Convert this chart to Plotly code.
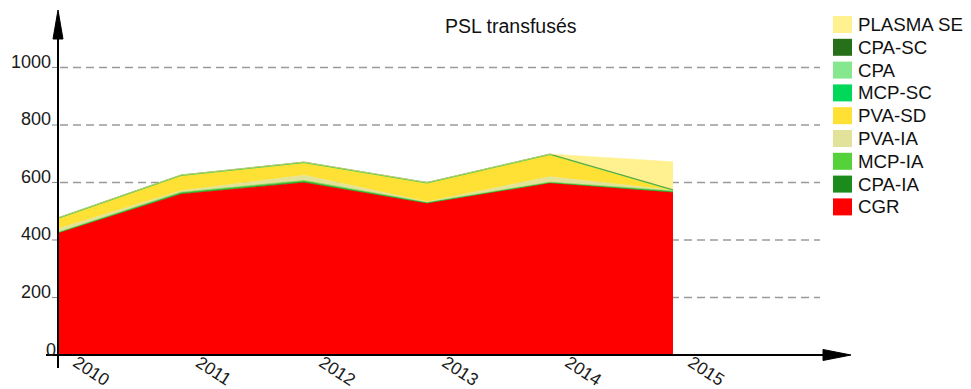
import plotly.graph_objects as go

# Yearly transfused blood products (stacked)
years = [2010, 2011, 2012, 2013, 2014, 2015]
cgr = [424, 560, 600, 528, 598, 566]
cpa_ia = [1, 2, 2, 1, 1, 1]
mcp_ia = [2, 4, 5, 2, 2, 4]
pva_ia = [12, 5, 18, 2, 19, 2]
pva_sd = [36, 53, 44, 65, 77, 0]
mcp_sc = [0, 0, 0, 0, 0, 0]
cpa = [2, 2, 2, 2, 2, 2]
cpa_sc = [0, 0, 0, 0, 0, 0]
plasma_se = [0, 0, 0, 0, 0, 97]

y_ticks = [0, 200, 400, 600, 800, 1000]
grid_values = [200, 400, 600, 800, 1000]
title_text = "PSL transfusés"

# stacking order, bottom to top
series = [
    ("CGR", cgr, "#ff0000"),
    ("CPA-IA", cpa_ia, "#1b8c1b"),
    ("MCP-IA", mcp_ia, "#55d23a"),
    ("PVA-IA", pva_ia, "#e3e29a"),
    ("PVA-SD", pva_sd, "#ffe135"),
    ("MCP-SC", mcp_sc, "#00d85a"),
    ("CPA", cpa, "#86d86a"),
    ("CPA-SC", cpa_sc, "#27701a"),
    ("PLASMA SE", plasma_se, "#fff18f"),
]
legend_colors = {
    "PLASMA SE": "#fff18f", "CPA-SC": "#27701a", "CPA": "#86e88e",
    "MCP-SC": "#00d85a", "PVA-SD": "#ffe135", "PVA-IA": "#e3e29a",
    "MCP-IA": "#55d23a", "CPA-IA": "#1b8c1b", "CGR": "#ff0000",
}

W, H = 971, 389
L, R, T, B = 58, 850, 10, 355  # plot area in pixels
FONT = "Liberation Sans, Arial"


def px_x(p):
    return (p - L) / (R - L)


def px_y(p):
    return (B - p) / (B - T)


fig = go.Figure()
for name, vals, color in series:
    fig.add_trace(go.Scatter(
        x=years, y=vals, name=name, stackgroup="one", mode="lines",
        line=dict(width=0.6, color=color), fillcolor=color,
        showlegend=False, hoverinfo="x+y+name",
    ))

shapes = []
# dashed grid
for v in grid_values:
    shapes.append(dict(type="line", xref="paper", yref="y",
                       x0=px_x(60), x1=px_x(820), y0=v, y1=v,
                       line=dict(color="#9a9a9a", width=1.5, dash="8px,5px"),
                       layer="below"))
# small y tick marks
for v in y_ticks[1:]:
    shapes.append(dict(type="line", xref="paper", yref="y",
                       x0=px_x(52), x1=px_x(58), y0=v, y1=v,
                       line=dict(color="#8a8a8a", width=1)))
# axes with arrowheads
shapes.append(dict(type="line", xref="paper", yref="paper",
                   x0=px_x(58), x1=px_x(58), y0=px_y(368), y1=px_y(30),
                   line=dict(color="black", width=2)))
shapes.append(dict(type="line", xref="paper", yref="paper",
                   x0=px_x(46), x1=px_x(830), y0=px_y(355), y1=px_y(355),
                   line=dict(color="black", width=2)))


def tri(pts):
    s = "M " + " L ".join(f"{px_x(a):.5f},{px_y(b):.5f}" for a, b in pts) + " Z"
    return dict(type="path", xref="paper", yref="paper", path=s,
                fillcolor="black", line=dict(color="black", width=1))


shapes.append(tri([(53, 39), (58, 10), (63, 39)]))
shapes.append(tri([(823, 349.5), (851, 355), (823, 360.5)]))

annotations = []
# y tick labels
for v in y_ticks:
    if v == 0:
        annotations.append(dict(text="0", xref="paper", yref="y", x=px_x(58),
                                y=v, xanchor="right", yanchor="middle", yshift=5,
                                showarrow=False,
                                font=dict(family=FONT, size=18, color="#1a1a1a")))
    else:
        annotations.append(dict(text=str(v), xref="paper", yref="y", x=px_x(53),
                                y=v, xanchor="right", yanchor="middle", yshift=6,
                                showarrow=False,
                                font=dict(family=FONT, size=18, color="#1a1a1a")))
# slanted year labels
for yr in years:
    annotations.append(dict(text=str(yr), xref="x", yref="paper", x=yr,
                            y=px_y(349), xanchor="left", yanchor="top", xshift=9,
                            textangle=33, showarrow=False,
                            font=dict(family=FONT, size=17.5, color="#1a1a1a")))
# title
annotations.append(dict(text=title_text, xref="paper", yref="paper",
                        x=px_x(511), y=px_y(26), xanchor="center", yanchor="middle",
                        showarrow=False,
                        font=dict(family=FONT, size=19.5, color="#111")))

# legend, top entry first
legend_order = ["PLASMA SE", "CPA-SC", "CPA", "MCP-SC", "PVA-SD",
                "PVA-IA", "MCP-IA", "CPA-IA", "CGR"]
for i, name in enumerate(legend_order):
    cy = 24.5 + i * 22.8
    shapes.append(dict(type="rect", xref="paper", yref="paper",
                       x0=px_x(833), x1=px_x(852), y0=px_y(cy - 8.5), y1=px_y(cy + 8.5),
                       fillcolor=legend_colors[name], line=dict(width=0)))
    annotations.append(dict(text=name, xref="paper", yref="paper",
                            x=px_x(856), y=px_y(cy), xanchor="left", yanchor="middle",
                            showarrow=False,
                            font=dict(family=FONT, size=18.7, color="#111")))

fig.update_layout(
    width=W, height=H, autosize=False,
    margin=dict(l=L, r=W - R, t=T, b=H - B, pad=0, autoexpand=False),
    paper_bgcolor="white", plot_bgcolor="white",
    xaxis=dict(range=[2010, 2010 + (R - L) / 123.0], showticklabels=False,
               automargin=False, showgrid=False, zeroline=False,
               showline=False, ticks=""),
    yaxis=dict(range=[0, (B - T) / 0.2875], showgrid=False, zeroline=False,
               showline=False, showticklabels=False, ticks="", automargin=False),
    shapes=shapes, annotations=annotations, showlegend=False,
)

fig.write_html("out.html")
